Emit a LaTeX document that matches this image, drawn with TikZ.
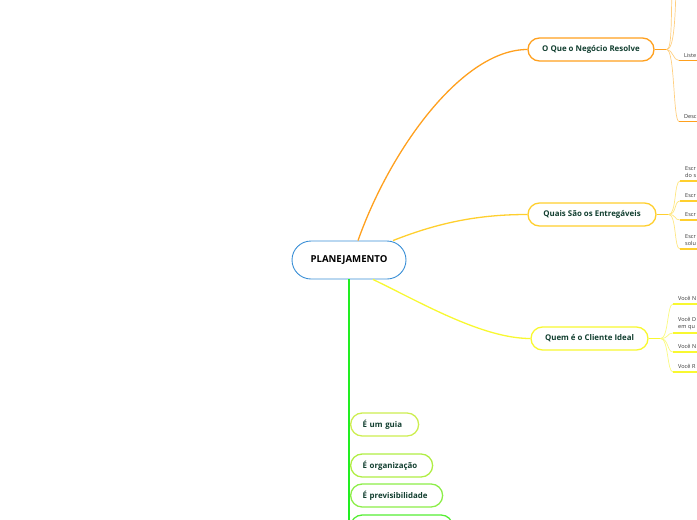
\documentclass[tikz,border=0pt]{standalone}
\usepackage{fontspec}
\setmainfont{Open Sans}
\definecolor{txt}{HTML}{123F30}
\definecolor{rootblue}{HTML}{3A8FD6}
\definecolor{orng}{HTML}{FFA01E}
\definecolor{orngl}{HTML}{FFCF80}
\definecolor{gold}{HTML}{FFCF2E}
\definecolor{goldl}{HTML}{FFE680}
\definecolor{ylw}{HTML}{F8F830}
\definecolor{ylwl}{HTML}{FAFA80}
\definecolor{grn}{HTML}{22EE22}
\definecolor{g1}{HTML}{CDEE50}
\definecolor{g2}{HTML}{B0EE44}
\definecolor{g3}{HTML}{8CEE48}
\definecolor{g4}{HTML}{55EE33}
\definecolor{leaf}{HTML}{333333}
\begin{document}
\begin{tikzpicture}[x=1pt,y=-1pt,
  topic/.style={draw, rounded corners=11.5pt, line width=1.3pt, fill=white,
    minimum height=23pt, inner sep=0pt, text=txt,
    font=\bfseries\fontsize{7.9}{9}\selectfont},
  gtopic/.style={topic, anchor=west, align=left, inner xsep=12pt},
  leafnode/.style={anchor=south west, inner xsep=5pt, inner ysep=3pt, text width=30pt,
    align=left, text=leaf, font=\fontsize{5.5}{7}\selectfont},
  mainline/.style={line width=1.3pt},
  subline/.style={line width=0.7pt},
  uline/.style={line width=1.4pt}]
\useasboundingbox (0,0) rectangle (697,520);
\begin{scope}
\clip (0,0) rectangle (697,520);
% root
\node[draw=rootblue, line width=0.9pt, fill=white, rounded corners=19pt,
  minimum width=114pt, minimum height=38pt, inner sep=0pt,
  font=\bfseries\fontsize{9.6}{11}\selectfont] (root) at (349,260) {PLANEJAMENTO};

% main topics
\node[topic, draw=orng, minimum width=126pt] (t1) at (591,49.5) {O Que o Negócio Resolve};
\node[topic, draw=gold, minimum width=128pt] (t2) at (592,214.5) {Quais São os Entregáveis};
\node[topic, draw=ylw, minimum width=117pt] (t3) at (589.5,338.5) {Quem é o Cliente Ideal};

% main connectors
\draw[mainline, orng] ([xshift=9pt]root.north) .. controls (390,150) and (462,49.5) .. (t1.west);
\draw[mainline, gold] ([xshift=44pt]root.north) .. controls (440,222) and (480,214.5) .. (t2.west);
\draw[mainline, ylw] ([xshift=24pt]root.south) .. controls (420,302) and (482,338.5) .. (t3.west);

% green branch
\coordinate (gend) at (349,540);
\draw[line width=2pt, grn] (root.south) -- (gend);
\node[gtopic, draw=g1, text width=44pt] (s1) at (350,424.5) {É um guia};
\node[gtopic, draw=g2, text width=58pt] (s2) at (350,465.5) {É organização};
\node[gtopic, draw=g3, text width=68pt] (s3) at (350,495.5) {É previsibilidade};
\node[gtopic, draw=g4, text width=78pt] (s4) at (350,526.5) {};

% orange leaves
\draw[subline, orng] (t1.east) -- ++(12,0) coordinate (h1);
\coordinate (o0a) at (672,-10);
\coordinate (o0b) at (676,-10);
\node[leafnode] (o1) at (679,60.5) {Liste};
\node[leafnode] (o2) at (679,121.5) {Desc};
\draw[subline, orngl] (h1) .. controls (672,49.5) and (671,20) .. (o0a);
\draw[subline, orngl] (h1) .. controls (674,49.5) and (675,20) .. (o0b);
\draw[subline, orngl] (h1) .. controls (673,49.5) and (673,60.5) .. (o1.south west);
\draw[subline, orngl] (h1) .. controls (675,49.5) and (673,121.5) .. (o2.south west);
\draw[uline, orng] (o1.south west) -- (o1.south east);
\draw[uline, orng] (o2.south west) -- (o2.south east);

% gold leaves
\draw[subline, gold] (t2.east) -- ++(12,0) coordinate (h2);
\node[leafnode] (e1) at (680,181) {Escr\\do s};
\node[leafnode] (e2) at (680,201) {Escr};
\node[leafnode] (e3) at (680,220) {Escr};
\node[leafnode] (e4) at (680,249) {Escr\\solu};
\foreach \n in {e1,e2,e3,e4}{
  \draw[subline, goldl] (h2) .. controls +(8,0) and +(-6,0) .. (\n.south west);
  \draw[uline, gold] (\n.south west) -- (\n.south east);
}

% yellow leaves
\draw[subline, ylw] (t3.east) -- ++(12,0) coordinate (h3);
\node[leafnode] (c1) at (673,304) {Você N};
\node[leafnode] (c2) at (673,333) {Você D\\em qu};
\node[leafnode] (c3) at (673,352) {Você N};
\node[leafnode] (c4) at (673,372) {Você R};
\foreach \n in {c1,c2,c3,c4}{
  \draw[subline, ylwl] (h3) .. controls +(8,0) and +(-6,0) .. (\n.south west);
  \draw[uline, ylw] (\n.south west) -- (\n.south east);
}
\end{scope}
\end{tikzpicture}
\end{document}
